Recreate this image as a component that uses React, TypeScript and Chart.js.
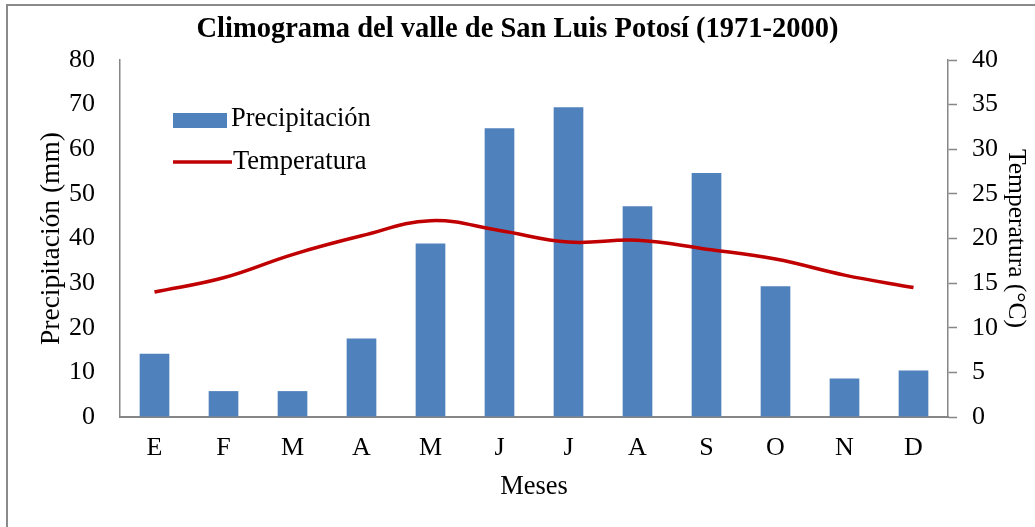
import React, { useEffect, useRef } from 'react';
import { Chart, registerables } from 'chart.js';

Chart.register(...registerables);

const months = ['E', 'F', 'M', 'A', 'M', 'J', 'J', 'A', 'S', 'O', 'N', 'D'];
const precipitation = [14.2, 5.8, 5.8, 17.6, 38.9, 64.7, 69.4, 47.2, 54.7, 29.3, 8.6, 10.4];
const temperature = [14.0, 15.6, 18.2, 20.3, 22.0, 20.9, 19.6, 19.8, 18.8, 17.7, 15.9, 14.5];
const titleText = 'Climograma del valle de San Luis Potosí (1971-2000)';
const precipLabel = 'Precipitación';
const tempLabel = 'Temperatura';
const leftAxisTitle = 'Precipitación (mm)';
const rightAxisTitle = 'Temperatura (°C)';
const xAxisTitle = 'Meses';

const SERIF = "'Liberation Serif', 'Times New Roman', serif";
const BLUE = '#4F81BD';
const RED = '#C00000';
const AXIS = '#868686';

const frameAndLegend = {
  id: 'frameAndLegend',
  beforeDraw(chart: any) {
    const ctx = chart.ctx;
    ctx.save();
    ctx.fillStyle = '#ffffff';
    ctx.fillRect(0, 0, chart.width, chart.height);
    ctx.strokeStyle = '#8a8a8a';
    ctx.lineWidth = 2;
    ctx.strokeRect(7, 5, chart.width + 20, chart.height + 20);
    ctx.restore();
  },
  afterDraw(chart: any) {
    const ctx = chart.ctx;
    const a = chart.chartArea;
    const x0 = a.left + 53;
    ctx.save();
    ctx.fillStyle = BLUE;
    ctx.fillRect(x0, a.top + 53, 54, 15);
    ctx.strokeStyle = RED;
    ctx.lineWidth = 3.5;
    ctx.beginPath();
    ctx.moveTo(x0, a.top + 102);
    ctx.lineTo(x0 + 59, a.top + 102);
    ctx.stroke();
    ctx.fillStyle = '#000';
    ctx.font = `26.5px ${SERIF}`;
    ctx.textBaseline = 'middle';
    ctx.textAlign = 'left';
    ctx.fillText(precipLabel, x0 + 58, a.top + 59);
    ctx.fillText(tempLabel, x0 + 60, a.top + 102);
    ctx.restore();
  },
};

export default function App() {
  const ref = useRef<HTMLCanvasElement | null>(null);

  useEffect(() => {
    if (!ref.current) return;
    const chart = new Chart(ref.current, {
      type: 'bar',
      data: {
        labels: months,
        datasets: [
          {
            type: 'line',
            label: tempLabel,
            data: temperature,
            yAxisID: 'yT',
            borderColor: RED,
            backgroundColor: RED,
            borderWidth: 3.5,
            pointRadius: 0,
            tension: 0.4,
            order: 0,
          } as any,
          {
            type: 'bar',
            label: precipLabel,
            data: precipitation,
            yAxisID: 'yP',
            backgroundColor: BLUE,
            borderWidth: 0,
            barPercentage: 0.43,
            categoryPercentage: 1,
            order: 1,
          },
        ],
      },
      options: {
        responsive: false,
        animation: false,
        layout: { padding: 0 },
        plugins: {
          legend: { display: false },
          tooltip: { enabled: false },
          title: {
            display: true,
            text: titleText,
            color: '#000',
            font: { family: SERIF, size: 28.5, weight: 'bold' },
            padding: { top: 13, bottom: 12.8 },
          },
        },
        scales: {
          x: {
            position: 'bottom',
            grid: { display: true, drawOnChartArea: false, drawTicks: false },
            border: { display: true, color: AXIS, width: 2 },
            ticks: { color: '#000', font: { family: SERIF, size: 26 }, padding: 15.5, maxRotation: 0 },
            title: {
              display: true,
              text: xAxisTitle,
              color: '#000',
              font: { family: SERIF, size: 26.5 },
              padding: { top: 0, bottom: 24 },
            },
            afterFit: (s: any) => { s.height = 110; },
          },
          yP: {
            position: 'left',
            min: 0,
            max: 80,
            ticks: { stepSize: 10, color: '#000', font: { family: SERIF, size: 26 }, padding: 25 },
            grid: { display: true, drawOnChartArea: false, drawTicks: false },
            border: { display: true, color: AXIS, width: 1.5 },
            title: {
              display: true,
              text: leftAxisTitle,
              color: '#000',
              font: { family: SERIF, size: 27.5 },
              padding: { top: 35, bottom: 0 },
            },
            afterFit: (s: any) => { s.width = 120; },
          },
          yT: {
            position: 'right',
            min: 0,
            max: 40,
            ticks: { stepSize: 5, color: '#000', font: { family: SERIF, size: 26 }, padding: 15 },
            grid: { display: true, drawOnChartArea: false, drawTicks: true, tickLength: 9, color: AXIS, tickWidth: 1.5 },
            border: { display: true, color: AXIS, width: 1.5 },
            title: {
              display: true,
              text: rightAxisTitle,
              color: '#000',
              font: { family: SERIF, size: 25.5 },
              padding: { top: 4, bottom: 0 },
            },
            afterFit: (s: any) => { s.width = 87; },
          },
        },
      },
      plugins: [frameAndLegend],
    });
    return () => chart.destroy();
  }, []);

  return (
    <div style={{ position: 'fixed', left: 0, top: 0, width: 1035, height: 527, background: '#fff' }}>
      <canvas ref={ref} width={1035} height={527} style={{ display: 'block' }} />
    </div>
  );
}
